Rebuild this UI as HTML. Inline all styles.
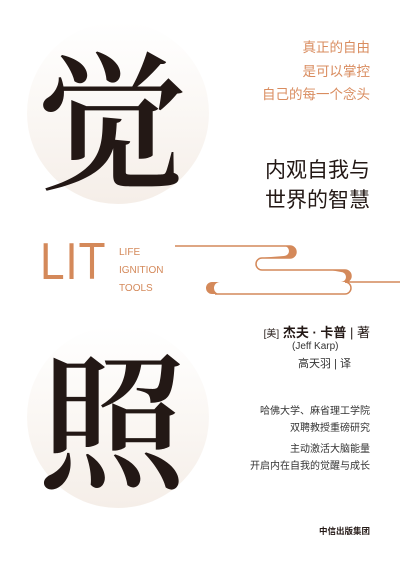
<!DOCTYPE html>
<html><head><meta charset="utf-8"><style>
body{margin:0;width:400px;height:563px;background:#fff;position:relative;overflow:hidden;font-family:"Liberation Sans","Noto Sans CJK SC",sans-serif}
.a{position:absolute}
.r{right:30px;text-align:right;white-space:nowrap}
.circ{position:absolute;border-radius:50%;background:linear-gradient(180deg,#fff 0%,#fbf8f5 45%,#f5eee8 100%)}
.big{position:absolute;font-family:"Noto Serif CJK SC",serif;font-size:148px;line-height:1;color:#231815;font-weight:600}
</style></head><body>
<div class="circ" style="left:27px;top:22px;width:182px;height:182px"></div>
<div class="circ" style="left:27px;top:326px;width:182px;height:182px"></div>
<div class="big" style="left:38px;top:40px">觉</div>
<div class="big" style="left:38px;top:340px">照</div>
<div class="a r" style="top:36px;color:#d98c5f;font-size:13.5px;line-height:23.5px">真正的自由<br>是可以掌控<br>自己的每一个念头</div>
<div class="a r" style="top:156px;color:#231815;font-size:21px;line-height:30px">内观自我与<br>世界的智慧</div>
<div class="a" style="left:40px;top:236px;color:#d4895a;font-size:52px;font-weight:300;line-height:1;letter-spacing:1px;transform:scaleX(0.85);transform-origin:left">LIT</div>
<div class="a" style="left:119px;top:244px;color:#d4895a;font-size:10px;line-height:18px">LIFE<br>IGNITION<br>TOOLS</div>
<svg class="a" style="left:0;top:0" width="400" height="563">
<g fill="none" stroke="#d4895a" stroke-width="1.5">
<path d="M175 246 H290 a6 6 0 0 1 0 12 H262 a6 6 0 0 0 0 12 H345 a6 6 0 0 1 0 12 H400"/>
<path d="M215 294 H345 a6 6 0 0 0 0 -12"/>
</g>
<g fill="#d4895a">
<path d="M258 258 H290 a6 6 0 0 0 0 -12 h-6 a5 5 0 0 1 0 10 Z"/>
<path d="M212 282 h8 a6 6 0 0 0 0 12 h-8 a6 6 0 0 1 0-12Z"/>
<path d="M330 270 h15 a6 6 0 0 1 0 12 h-4 a5 5 0 0 0 0 -10 Z"/>
</g>
</svg>
<div class="a r" style="top:322px;color:#231815;font-size:13px"><span style="font-size:10px">[美]</span> <b>杰夫 · 卡普</b> | 著</div>
<div class="a" style="left:292px;top:341px;color:#333;font-size:10px">(Jeff Karp)</div>
<div class="a" style="left:298px;top:355px;color:#333;font-size:11px">高天羽 | 译</div>
<div class="a r" style="top:403px;color:#333;font-size:10px;line-height:17px">哈佛大学、麻省理工学院<br>双聘教授重磅研究<br><div style="height:4px"></div>主动激活大脑能量<br>开启内在自我的觉醒与成长</div>
<div class="a r" style="top:525px;color:#231815;font-size:8.5px;font-weight:bold">中信出版集团</div>
</body></html>
